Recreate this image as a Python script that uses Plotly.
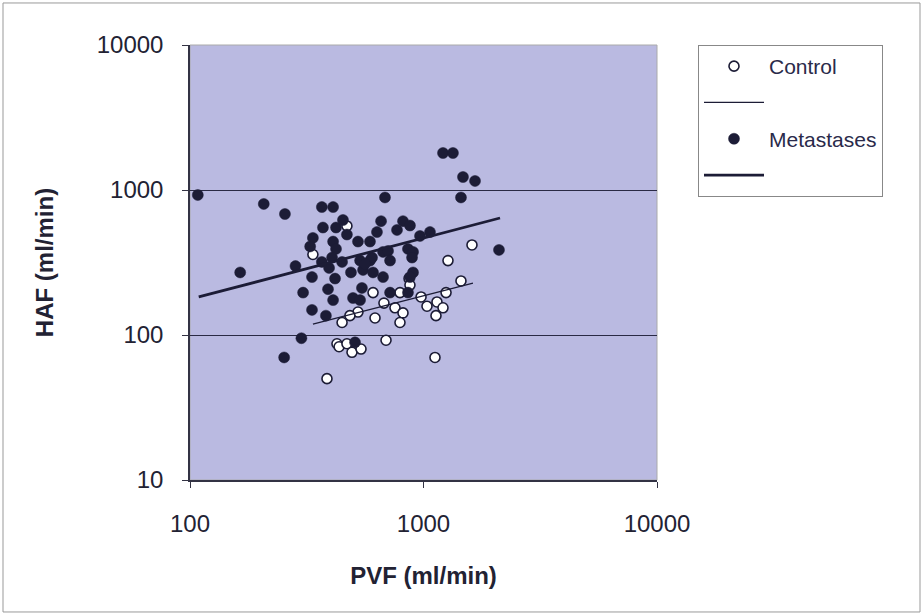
import plotly.graph_objects as go

# Control (open circles)
control_pvf = [470, 336, 1613, 1273, 1447, 867, 875, 608, 793, 976, 1249, 677, 755, 817,
               1035, 1142, 1212, 1131, 620, 793, 524, 484, 448, 691, 1120, 426, 435,
               470, 494, 540, 386]
control_haf = [565, 359, 418, 326, 236, 245, 221, 196, 196, 183, 196, 166, 154, 142,
               158, 169, 154, 136, 131, 122, 144, 136, 122, 92, 70, 87, 83,
               87, 76, 80, 50]

# Metastases (filled circles)
met_pvf = [108, 164, 207, 255, 300, 253, 283, 367, 410, 371, 422, 452, 470, 336, 327,
           410, 422, 367, 406, 394, 448, 333, 418, 489, 524, 305, 390, 410, 333, 382,
           499, 545, 535, 535, 590, 551, 590, 632, 658, 684, 602, 562, 608, 671, 671,
           705, 719, 817, 875, 770, 966, 1066, 858, 902, 893, 902, 875, 719, 858, 509,
           1212, 1337, 1476, 1662, 1447, 2105]
met_haf = [924, 270, 801, 683, 95, 70, 299, 763, 763, 551, 551, 621, 493, 467, 408,
           441, 392, 319, 342, 290, 319, 251, 245, 270, 441, 196, 207, 174, 149, 136,
           180, 211, 174, 326, 326, 281, 441, 513, 610, 888, 342, 309, 270, 251, 374,
           380, 326, 610, 569, 530, 482, 513, 392, 374, 342, 270, 251, 196, 196, 89,
           1800, 1800, 1229, 1154, 888, 386]

# Power-law trend lines (end points)
control_fit_pvf = [336, 1629]
control_fit_haf = [119, 228]
met_fit_pvf = [109, 2127]
met_fit_haf = [183, 641]

x_ticks = [100, 1000, 10000]
y_ticks = [10, 100, 1000, 10000]

font_family = "Arial, Liberation Sans, sans-serif"
ink = "#1c1c36"

fig = go.Figure()

fig.add_trace(go.Scatter(
    x=control_pvf, y=control_haf, mode="markers", name="Control",
    legendgroup="a",
    marker=dict(symbol="circle", size=10, color="white",
                line=dict(color=ink, width=1.6)),
))
fig.add_trace(go.Scatter(
    x=control_fit_pvf, y=control_fit_haf, mode="lines", name=" ",
    legendgroup="b",
    line=dict(color=ink, width=1.3),
))
fig.add_trace(go.Scatter(
    x=met_pvf, y=met_haf, mode="markers", name="Metastases",
    legendgroup="c",
    marker=dict(symbol="circle", size=11, color=ink,
                line=dict(color=ink, width=0.5)),
))
fig.add_trace(go.Scatter(
    x=met_fit_pvf, y=met_fit_haf, mode="lines", name="  ",
    legendgroup="d",
    line=dict(color=ink, width=2.8),
))

fig.update_layout(
    width=924, height=616,
    margin=dict(l=190, r=267, t=45, b=136),
    paper_bgcolor="white",
    plot_bgcolor="#babae1",
    font=dict(family=font_family, size=24, color="#222233"),
    showlegend=True,
    legend=dict(
        x=1.0878, y=1.0, xanchor="left", yanchor="top",
        bordercolor="#888888", borderwidth=1, bgcolor="white",
        font=dict(size=21, color="#2a2a4a"),
        itemwidth=60, tracegroupgap=6,
    ),
    shapes=[
        dict(type="rect", xref="paper", yref="paper",
             x0=-0.4004, x1=1.5632, y0=-0.3034, y1=1.0966,
             line=dict(color="#999999", width=1), fillcolor="rgba(0,0,0,0)",
             layer="below"),
        dict(type="rect", xref="paper", yref="paper",
             x0=0, x1=1, y0=0, y1=1,
             line=dict(color="#aaaaaa", width=1), fillcolor="rgba(0,0,0,0)",
             layer="below"),
    ],
)

fig.update_xaxes(
    type="log", range=[2, 4],
    tickvals=x_ticks, ticktext=[str(v) for v in x_ticks],
    showgrid=False, zeroline=False,
    showline=True, linecolor="#333344", linewidth=1.5,
    ticks="outside", ticklen=6, tickcolor="#333344",
    ticklabelstandoff=15,
    title=dict(text="<b>PVF (ml/min)</b>", standoff=32,
               font=dict(size=24, color="#222233")),
)
fig.update_yaxes(
    type="log", range=[1, 4],
    tickvals=y_ticks, ticktext=[str(v) for v in y_ticks],
    showgrid=True, gridcolor="#2a2a44", gridwidth=1,
    zeroline=False,
    showline=True, linecolor="#333344", linewidth=1.5,
    ticks="outside", ticklen=6, tickcolor="#333344",
    ticklabelstandoff=14,
    title=dict(text="<b>HAF (ml/min)</b>", standoff=36,
               font=dict(size=24, color="#222233")),
)

fig.write_html("out.html", config={"displayModeBar": False},
               post_script="document.body.style.margin='0px';")
